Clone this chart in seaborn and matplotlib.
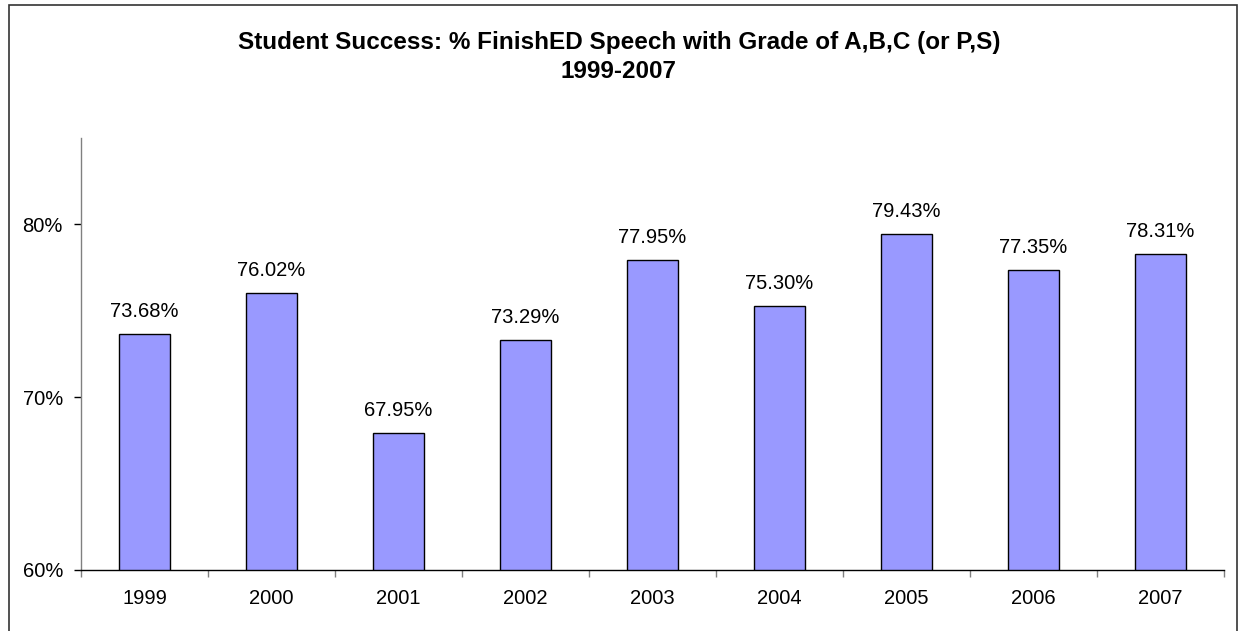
import numpy as np
import pandas as pd
import matplotlib
matplotlib.use("Agg")
import matplotlib.pyplot as plt
import seaborn as sns
from matplotlib.patches import Rectangle
from matplotlib.ticker import FuncFormatter

# data
years = ["1999", "2000", "2001", "2002", "2003", "2004", "2005", "2006", "2007"]
success = [73.68, 76.02, 67.95, 73.29, 77.95, 75.30, 79.43, 77.35, 78.31]

df = pd.DataFrame({"year": years, "pct": success})

sns.set_style("white")
plt.rcParams["font.family"] = ["Liberation Sans", "DejaVu Sans"]
plt.rcParams["text.color"] = "black"
plt.rcParams["xtick.color"] = "black"
plt.rcParams["ytick.color"] = "black"

fig = plt.figure(figsize=(12.38, 6.31), dpi=100)
ax = fig.add_axes([0.0654, 0.0967, 0.9233, 0.6846])

sns.barplot(data=df, x="year", y="pct", color="#9999FF", saturation=1,
            width=0.4, edgecolor="black", linewidth=1, ax=ax)

ax.set_ylim(60, 85)
ax.set_xlim(-0.5, len(years) - 0.5)
ax.set_yticks([60, 70, 80])
ax.yaxis.set_major_formatter(FuncFormatter(lambda v, _: f"{v:.0f}%"))
ax.tick_params(axis="y", length=5, width=1, color="black", direction="out",
               left=True, labelsize=14.5, pad=8)
ax.tick_params(axis="x", which="major", length=0, labelsize=14.5, pad=14)
ax.set_xticks(np.arange(-0.5, len(years)), minor=True)
ax.tick_params(axis="x", which="minor", length=5, width=1, color="gray",
               direction="out", bottom=True)
ax.set_xlabel("")
ax.set_ylabel("")

for s in ["top", "right"]:
    ax.spines[s].set_visible(False)
ax.spines["left"].set_color("gray")
ax.spines["bottom"].set_color("black")
ax.spines["left"].set_linewidth(1)
ax.spines["bottom"].set_linewidth(1)

# value labels just above each bar
for i, v in enumerate(success):
    ax.text(i, v + 1.3, f"{v:.2f}%", ha="center", va="center", fontsize=14.5)

fig.text(0.5, 0.9334, "Student Success: % FinishED Speech with Grade of A,B,C (or P,S)",
         ha="center", va="center", fontsize=17.5, fontweight="bold")
fig.text(0.5, 0.886, "1999-2007", ha="center", va="center",
         fontsize=17.5, fontweight="bold")

# chart-area frame
fig.patches.append(Rectangle((8.5 / 1238, -0.01), 1228 / 1238, 1.0013,
                             transform=fig.transFigure, fill=False,
                             edgecolor="#333333", linewidth=1.2))

fig.savefig("out.png", dpi=100)
